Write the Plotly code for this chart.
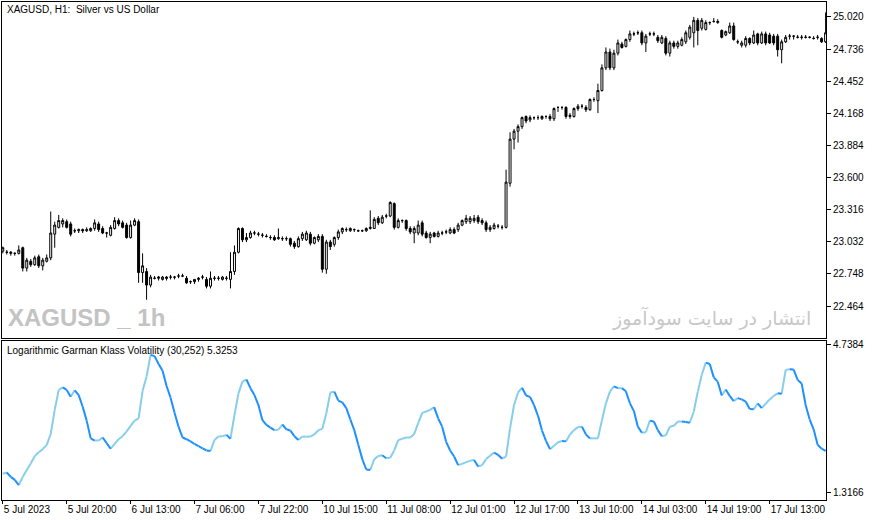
import plotly.graph_objects as go

# ---------------- data ----------------
opens = [22.95, 22.94, 22.93, 22.93, 22.93, 22.98, 22.80, 22.86, 22.83, 22.90,
         22.82, 22.86, 22.89, 23.10, 23.16, 23.19, 23.21, 23.19, 23.13, 23.13,
         23.14, 23.13, 23.13, 23.15, 23.19, 23.15, 23.11, 23.09, 23.15, 23.22,
         23.20, 23.18, 23.07, 23.18, 23.21, 22.76, 22.77, 22.65, 22.71, 22.71,
         22.70, 22.72, 22.72, 22.72, 22.73, 22.73, 22.71, 22.68, 22.68, 22.70,
         22.72, 22.70, 22.64, 22.71, 22.71, 22.70, 22.71, 22.70, 22.77, 22.94,
         23.15, 23.05, 23.07, 23.11, 23.10, 23.09, 23.08, 23.07, 23.07, 23.06,
         23.06, 23.06, 23.06, 23.02, 22.99, 23.06, 23.05, 23.10, 23.02, 23.05,
         23.08, 22.79, 23.03, 23.01, 23.07, 23.12, 23.14, 23.13, 23.14, 23.13,
         23.13, 23.13, 23.15, 23.15, 23.24, 23.20, 23.26, 23.26, 23.37, 23.16,
         23.22, 23.22, 23.15, 23.11, 23.11, 23.20, 23.11, 23.07, 23.11, 23.08,
         23.11, 23.12, 23.11, 23.14, 23.14, 23.18, 23.21, 23.21, 23.22, 23.25,
         23.22, 23.20, 23.14, 23.15, 23.17, 23.16, 23.16, 23.55, 23.94, 24.01,
         24.05, 24.14, 24.11, 24.13, 24.13, 24.12, 24.14, 24.14, 24.12, 24.22,
         24.22, 24.22, 24.14, 24.14, 24.21, 24.23, 24.22, 24.20, 24.29, 24.28,
         24.37, 24.57, 24.71, 24.57, 24.70, 24.78, 24.76, 24.82, 24.87, 24.88,
         24.88, 24.79, 24.87, 24.87, 24.84, 24.79, 24.83, 24.70, 24.79, 24.76,
         24.77, 24.80, 24.84, 24.88, 24.99, 24.92, 24.91, 24.97, 24.98, 24.97,
         24.90, 24.86, 24.88, 24.94, 24.80, 24.77, 24.77, 24.83, 24.79, 24.87,
         24.79, 24.87, 24.86, 24.85, 24.85, 24.73, 24.80, 24.85, 24.85, 24.84,
         24.84, 24.84, 24.84, 24.83, 24.84, 24.83, 24.80]

highs = [22.99, 22.96, 22.95, 22.94, 23.00, 22.99, 22.89, 22.88, 22.91, 22.92,
         22.89, 22.92, 23.30, 23.21, 23.27, 23.24, 23.23, 23.21, 23.15, 23.15,
         23.15, 23.16, 23.16, 23.23, 23.21, 23.17, 23.12, 23.18, 23.25, 23.24,
         23.22, 23.20, 23.22, 23.24, 23.23, 22.93, 22.80, 22.74, 22.73, 22.73,
         22.73, 22.73, 22.74, 22.73, 22.75, 22.75, 22.73, 22.69, 22.70, 22.72,
         22.74, 22.72, 22.77, 22.73, 22.73, 22.73, 22.73, 22.94, 23.00, 23.16,
         23.16, 23.11, 23.13, 23.13, 23.12, 23.11, 23.10, 23.09, 23.09, 23.15,
         23.08, 23.08, 23.07, 23.04, 23.08, 23.12, 23.13, 23.12, 23.08, 23.10,
         23.10, 23.05, 23.05, 23.08, 23.14, 23.16, 23.16, 23.16, 23.15, 23.14,
         23.14, 23.16, 23.31, 23.25, 23.26, 23.27, 23.28, 23.39, 23.38, 23.24,
         23.23, 23.23, 23.17, 23.17, 23.22, 23.22, 23.13, 23.12, 23.12, 23.13,
         23.13, 23.14, 23.16, 23.16, 23.20, 23.23, 23.27, 23.26, 23.27, 23.27,
         23.24, 23.22, 23.18, 23.20, 23.19, 23.18, 23.67, 24.00, 24.03, 24.07,
         24.14, 24.15, 24.15, 24.14, 24.15, 24.15, 24.15, 24.16, 24.22, 24.23,
         24.23, 24.23, 24.17, 24.22, 24.25, 24.25, 24.24, 24.30, 24.31, 24.43,
         24.60, 24.75, 24.74, 24.73, 24.82, 24.80, 24.83, 24.90, 24.89, 24.90,
         24.90, 24.87, 24.89, 24.89, 24.86, 24.86, 24.85, 24.81, 24.81, 24.81,
         24.84, 24.90, 24.95, 25.02, 25.01, 25.01, 24.99, 24.98, 25.01, 25.00,
         24.91, 24.90, 24.97, 24.97, 24.82, 24.81, 24.85, 24.84, 24.90, 24.88,
         24.89, 24.89, 24.88, 24.87, 24.87, 24.82, 24.86, 24.87, 24.86, 24.86,
         24.86, 24.86, 24.85, 24.85, 24.86, 24.84, 25.06]

lows = [22.93, 22.92, 22.91, 22.91, 22.92, 22.77, 22.77, 22.81, 22.82, 22.80,
        22.78, 22.85, 22.87, 22.98, 23.15, 23.16, 23.15, 23.08, 23.11, 23.11,
        23.11, 23.12, 23.12, 23.13, 23.12, 23.10, 23.07, 23.08, 23.14, 23.17,
        23.15, 23.06, 23.06, 23.17, 22.67, 22.67, 22.52, 22.63, 22.70, 22.69,
        22.69, 22.69, 22.70, 22.70, 22.71, 22.72, 22.66, 22.66, 22.66, 22.68,
        22.70, 22.62, 22.62, 22.69, 22.69, 22.69, 22.69, 22.62, 22.74, 22.93,
        23.03, 23.03, 23.06, 23.09, 23.08, 23.07, 23.07, 23.05, 23.04, 23.05,
        23.04, 23.04, 22.99, 22.97, 22.98, 23.04, 23.04, 23.00, 23.01, 23.03,
        22.76, 22.75, 22.96, 22.99, 23.05, 23.10, 23.12, 23.12, 23.12, 23.12,
        23.12, 23.12, 23.14, 23.15, 23.18, 23.19, 23.24, 23.25, 23.14, 23.15,
        23.20, 23.13, 23.10, 23.02, 23.09, 23.08, 23.06, 23.02, 23.07, 23.07,
        23.09, 23.10, 23.10, 23.10, 23.12, 23.17, 23.19, 23.19, 23.20, 23.19,
        23.18, 23.12, 23.12, 23.14, 23.15, 23.14, 23.15, 23.52, 23.85, 23.91,
        24.03, 24.08, 24.09, 24.11, 24.11, 24.11, 24.12, 24.10, 24.10, 24.18,
        24.20, 24.12, 24.12, 24.13, 24.19, 24.21, 24.18, 24.19, 24.27, 24.17,
        24.36, 24.55, 24.55, 24.55, 24.68, 24.74, 24.75, 24.80, 24.85, 24.86,
        24.77, 24.71, 24.85, 24.85, 24.79, 24.78, 24.68, 24.67, 24.74, 24.74,
        24.76, 24.78, 24.82, 24.75, 24.77, 24.90, 24.90, 24.95, 24.97, 24.96,
        24.83, 24.85, 24.87, 24.81, 24.78, 24.75, 24.75, 24.77, 24.78, 24.77,
        24.78, 24.77, 24.78, 24.77, 24.67, 24.61, 24.79, 24.82, 24.82, 24.83,
        24.82, 24.83, 24.83, 24.82, 24.82, 24.79, 24.79]

closes = [22.98, 22.94, 22.94, 22.93, 22.96, 22.80, 22.87, 22.83, 22.89, 22.82,
          22.87, 22.89, 23.11, 23.18, 23.22, 23.22, 23.16, 23.10, 23.13, 23.14,
          23.13, 23.14, 23.15, 23.20, 23.14, 23.11, 23.11, 23.16, 23.22, 23.19,
          23.16, 23.07, 23.18, 23.22, 22.76, 22.82, 22.65, 22.72, 22.71, 22.72,
          22.72, 22.71, 22.72, 22.72, 22.73, 22.73, 22.67, 22.68, 22.70, 22.71,
          22.72, 22.64, 22.71, 22.71, 22.71, 22.72, 22.71, 22.77, 22.94, 23.15,
          23.05, 23.07, 23.11, 23.11, 23.10, 23.09, 23.08, 23.07, 23.05, 23.07,
          23.06, 23.06, 23.01, 22.99, 23.06, 23.10, 23.11, 23.02, 23.07, 23.08,
          22.79, 23.03, 22.99, 23.07, 23.12, 23.15, 23.14, 23.15, 23.14, 23.13,
          23.13, 23.15, 23.16, 23.23, 23.20, 23.25, 23.26, 23.38, 23.16, 23.22,
          23.22, 23.15, 23.12, 23.15, 23.18, 23.10, 23.07, 23.10, 23.08, 23.11,
          23.11, 23.12, 23.14, 23.11, 23.18, 23.22, 23.24, 23.24, 23.24, 23.21,
          23.20, 23.14, 23.16, 23.18, 23.17, 23.16, 23.56, 23.94, 24.01, 24.05,
          24.13, 24.10, 24.13, 24.13, 24.13, 24.14, 24.14, 24.12, 24.21, 24.22,
          24.22, 24.14, 24.15, 24.21, 24.23, 24.23, 24.20, 24.29, 24.29, 24.37,
          24.57, 24.71, 24.57, 24.70, 24.79, 24.75, 24.82, 24.87, 24.87, 24.88,
          24.79, 24.85, 24.87, 24.87, 24.81, 24.84, 24.70, 24.79, 24.76, 24.79,
          24.82, 24.88, 24.93, 24.99, 24.90, 24.99, 24.97, 24.97, 24.98, 24.98,
          24.84, 24.89, 24.94, 24.82, 24.80, 24.79, 24.83, 24.79, 24.86, 24.79,
          24.87, 24.79, 24.79, 24.79, 24.73, 24.80, 24.84, 24.85, 24.85, 24.84,
          24.84, 24.84, 24.84, 24.83, 24.84, 24.80, 24.88]

volatility = [1.76, 1.79, 1.69, 1.62, 1.50, 1.69, 1.85, 2.00, 2.17, 2.26,
              2.33, 2.43, 2.68, 3.24, 3.70, 3.76, 3.70, 3.54, 3.69, 3.58,
              3.31, 2.99, 2.58, 2.53, 2.53, 2.60, 2.47, 2.34, 2.45, 2.56,
              2.63, 2.74, 2.87, 2.99, 3.04, 3.68, 4.01, 4.51, 4.48, 4.30,
              4.14, 3.79, 3.52, 3.17, 2.85, 2.60, 2.56, 2.51, 2.45, 2.40,
              2.35, 2.30, 2.29, 2.54, 2.62, 2.63, 2.66, 2.57, 3.12, 3.62,
              3.89, 3.94, 3.74, 3.58, 3.35, 3.00, 2.89, 2.83, 2.77, 2.78,
              2.90, 2.79, 2.76, 2.63, 2.54, 2.62, 2.62, 2.62, 2.67, 2.77,
              2.80, 3.16, 3.64, 3.66, 3.45, 3.41, 3.28, 3.02, 2.77, 2.43,
              2.10, 1.86, 1.85, 2.10, 2.17, 2.19, 2.12, 2.13, 2.30, 2.54,
              2.57, 2.60, 2.60, 2.68, 2.93, 3.17, 3.20, 3.24, 3.30, 3.04,
              2.85, 2.50, 2.30, 2.16, 1.96, 1.99, 2.03, 2.06, 2.08, 1.93,
              1.96, 2.10, 2.18, 2.25, 2.20, 2.11, 2.16, 2.81, 3.35, 3.64,
              3.75, 3.57, 3.54, 3.35, 3.10, 2.76, 2.52, 2.33, 2.41, 2.49,
              2.52, 2.51, 2.67, 2.77, 2.84, 2.85, 2.67, 2.58, 2.58, 2.58,
              3.00, 3.39, 3.66, 3.78, 3.74, 3.74, 3.67, 3.39, 3.21, 2.85,
              2.71, 2.72, 2.99, 2.97, 2.77, 2.63, 2.65, 2.85, 2.87, 2.97,
              2.97, 2.96, 2.94, 3.20, 3.66, 4.05, 4.33, 4.30, 3.99, 3.89,
              3.57, 3.71, 3.56, 3.44, 3.51, 3.48, 3.43, 3.26, 3.25, 3.39,
              3.28, 3.38, 3.48, 3.56, 3.62, 3.61, 4.16, 4.18, 4.17, 3.93,
              3.85, 3.35, 3.02, 2.79, 2.43, 2.34, 2.29]

bar_index = list(range(len(closes)))

time_tick_bars = [0, 16, 32, 48, 64, 80, 96, 112, 128, 144, 160, 176, 192]
time_tick_labels = ["5 Jul 2023", "5 Jul 20:00", "6 Jul 13:00", "7 Jul 06:00",
                    "7 Jul 22:00", "10 Jul 15:00", "11 Jul 08:00", "12 Jul 01:00",
                    "12 Jul 17:00", "13 Jul 10:00", "14 Jul 03:00", "14 Jul 19:00",
                    "17 Jul 13:00"]

price_ticks = [22.464, 22.748, 23.032, 23.316, 23.600, 23.884, 24.168, 24.452, 24.736, 25.020]
vol_ticks = [1.3166, 4.7384]

# ---------------- figure ----------------
FONT = "Liberation Sans, Arial, sans-serif"
fig = go.Figure()

fig.add_trace(go.Candlestick(
    x=bar_index, open=opens, high=highs, low=lows, close=closes,
    increasing=dict(line=dict(color="black", width=1), fillcolor="white"),
    decreasing=dict(line=dict(color="black", width=1), fillcolor="black"),
    whiskerwidth=0, showlegend=False, hoverinfo="skip",
    xaxis="x", yaxis="y"))

# colour line: light when rising, dark when falling
rx, ry, fx, fy = [], [], [], []
for i in range(1, len(volatility)):
    if volatility[i] >= volatility[i - 1]:
        rx += [bar_index[i - 1], bar_index[i], None]
        ry += [volatility[i - 1], volatility[i], None]
    else:
        fx += [bar_index[i - 1], bar_index[i], None]
        fy += [volatility[i - 1], volatility[i], None]

fig.add_trace(go.Scatter(x=rx, y=ry, mode="lines", line=dict(color="#87CEEB", width=2),
                         showlegend=False, hoverinfo="skip", xaxis="x2", yaxis="y2"))
fig.add_trace(go.Scatter(x=fx, y=fy, mode="lines", line=dict(color="#1E90FF", width=2),
                         showlegend=False, hoverinfo="skip", xaxis="x2", yaxis="y2"))

xrange = [-0.2, 206.1]
axis_common = dict(showline=True, mirror=True, linecolor="black", linewidth=1,
                   showgrid=False, zeroline=False, automargin=False)

fig.update_layout(
    width=876, height=520,
    margin=dict(l=2, r=50, t=2, b=20, autoexpand=False),
    paper_bgcolor="white", plot_bgcolor="white",
    font=dict(family=FONT, size=10, color="black"),
    showlegend=False,
    xaxis=dict(domain=[0, 1], anchor="y", range=xrange, showticklabels=False,
               ticks="", rangeslider=dict(visible=False), **axis_common),
    yaxis=dict(domain=[0.3253, 1], anchor="x", side="right", range=[22.182, 25.152],
               tickmode="array", tickvals=price_ticks,
               ticktext=[f"{v:.3f}" for v in price_ticks],
               ticks="outside", ticklen=4, tickcolor="black",
               tickfont=dict(family=FONT, size=10, color="black"), **axis_common),
    xaxis2=dict(domain=[0, 1], anchor="y2", range=xrange, matches="x",
                tickmode="array", tickvals=time_tick_bars, ticktext=time_tick_labels,
                ticks="outside", ticklen=3, tickcolor="black", tickangle=0,
                ticklabelposition="outside right",
                tickfont=dict(family=FONT, size=10, color="black"), **axis_common),
    yaxis2=dict(domain=[0, 0.3193], anchor="x2", side="right", range=[1.1546, 4.8309],
                tickmode="array", tickvals=vol_ticks,
                ticktext=[f"{v:.4f}" for v in vol_ticks],
                ticks="outside", ticklen=4, tickcolor="black",
                tickfont=dict(family=FONT, size=10, color="black"), **axis_common),
)

annotations = [
    dict(text="XAGUSD, H1:\u00a0 Silver vs US Dollar", xref="paper", yref="paper",
         x=0.004, y=0.999, xanchor="left", yanchor="top", showarrow=False,
         font=dict(family=FONT, size=10, color="black")),
    dict(text="Logarithmic Garman Klass Volatility (30,252) 5.3253", xref="paper", yref="paper",
         x=0.004, y=0.3155, xanchor="left", yanchor="top", showarrow=False,
         font=dict(family=FONT, size=10, color="black")),
    dict(text="XAGUSD _ 1h", xref="paper", yref="paper",
         x=0.005, y=0.366, xanchor="left", yanchor="middle", showarrow=False,
         font=dict(family="Liberation Sans Narrow, Liberation Sans, Arial", size=24,
                   color="#C3C3C3", weight="bold")),
    dict(text="انتشار در سایت سودآموز", xref="paper", yref="paper",
         x=0.984, y=0.366, xanchor="right", yanchor="middle", showarrow=False,
         font=dict(family="DejaVu Sans, Noto Sans, sans-serif", size=19, color="#C8C8C8")),
]
fig.update_layout(annotations=annotations)

fig.write_html("out.html", config={"displayModeBar": False},
               post_script="document.body.style.margin='0px';document.body.style.padding='0px';")
